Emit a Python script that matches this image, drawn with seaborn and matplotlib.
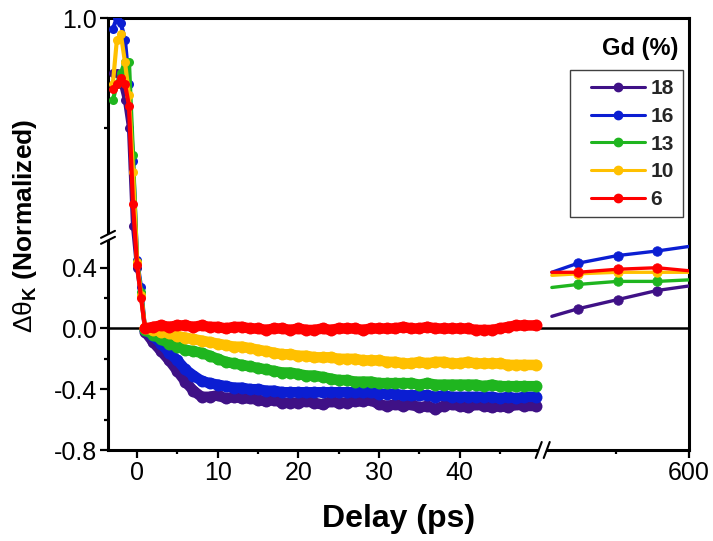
import numpy as np
import pandas as pd
import matplotlib
matplotlib.use("Agg")
import matplotlib.pyplot as plt
from matplotlib.lines import Line2D
from matplotlib.patches import Rectangle
import seaborn as sns

# ---------------- data ----------------
# short-delay scan (ps)
delay_ps = [-3.0, -2.5, -2.0, -1.5, -1.0, -0.5, 0.0, 0.5, 1.0,
            2, 3, 4, 5, 6, 7, 8, 9, 10, 11,
            12, 13, 14, 15, 16, 17, 18, 19, 20, 21,
            22, 23, 24, 25, 26, 27, 28, 29, 30, 31,
            32, 33, 34, 35, 36, 37, 38, 39, 40, 41,
            42, 43, 44, 45, 46, 47, 48, 49.5]

gd18 = [0.90, 0.90, 0.88, 0.85, 0.80, 0.62, 0.40, 0.22, -0.02,
        -0.09, -0.15, -0.21, -0.28, -0.35, -0.41, -0.45, -0.45, -0.44, -0.46,
        -0.45, -0.46, -0.46, -0.47, -0.48, -0.47, -0.49, -0.49, -0.49, -0.48,
        -0.49, -0.50, -0.48, -0.49, -0.49, -0.48, -0.48, -0.47, -0.50, -0.51,
        -0.50, -0.51, -0.50, -0.52, -0.51, -0.53, -0.51, -0.50, -0.51, -0.52,
        -0.50, -0.51, -0.52, -0.51, -0.52, -0.50, -0.51, -0.51]

gd16 = [0.98, 1.00, 0.99, 0.96, 0.88, 0.74, 0.45, 0.27, -0.01,
        -0.05, -0.10, -0.16, -0.21, -0.27, -0.31, -0.345, -0.36, -0.37, -0.38,
        -0.39, -0.39, -0.40, -0.40, -0.41, -0.41, -0.42, -0.42, -0.42, -0.42,
        -0.42, -0.42, -0.42, -0.42, -0.42, -0.42, -0.42, -0.42, -0.43, -0.43,
        -0.43, -0.44, -0.44, -0.44, -0.44, -0.45, -0.44, -0.45, -0.45, -0.45,
        -0.45, -0.45, -0.45, -0.46, -0.45, -0.46, -0.45, -0.45]

gd13 = [0.85, 0.88, 0.90, 0.92, 0.92, 0.75, 0.44, 0.24, -0.01,
        -0.04, -0.07, -0.10, -0.12, -0.14, -0.15, -0.16, -0.18, -0.20, -0.22,
        -0.23, -0.24, -0.25, -0.26, -0.27, -0.28, -0.29, -0.29, -0.30, -0.31,
        -0.31, -0.32, -0.33, -0.34, -0.34, -0.35, -0.35, -0.35, -0.36, -0.36,
        -0.36, -0.36, -0.36, -0.37, -0.36, -0.37, -0.37, -0.37, -0.37, -0.37,
        -0.37, -0.38, -0.37, -0.38, -0.38, -0.38, -0.38, -0.38]

gd10 = [0.88, 0.96, 0.97, 0.92, 0.86, 0.72, 0.44, 0.22, 0.00,
        -0.01, -0.02, -0.03, -0.05, -0.06, -0.07, -0.08, -0.09, -0.10, -0.11,
        -0.12, -0.12, -0.13, -0.14, -0.15, -0.16, -0.17, -0.17, -0.18, -0.18,
        -0.19, -0.19, -0.19, -0.20, -0.20, -0.20, -0.21, -0.21, -0.21, -0.22,
        -0.22, -0.23, -0.23, -0.22, -0.23, -0.22, -0.22, -0.23, -0.23, -0.22,
        -0.23, -0.23, -0.23, -0.23, -0.24, -0.24, -0.24, -0.24]

gd6 = [0.87, 0.88, 0.89, 0.88, 0.84, 0.66, 0.42, 0.20, 0.00,
       0.01, 0.02, 0.01, 0.02, 0.02, 0.01, 0.02, 0.01, 0.01, 0.00,
       0.01, 0.01, 0.00, 0.00, -0.01, 0.00, 0.00, -0.01, 0.00, -0.01,
       -0.01, 0.00, -0.01, 0.00, 0.00, 0.00, -0.01, 0.00, 0.00, 0.00,
       0.00, 0.01, 0.00, 0.00, 0.01, 0.00, 0.00, 0.00, 0.00, 0.00,
       -0.01, -0.01, -0.01, 0.00, 0.01, 0.02, 0.02, 0.02]

# long-delay points (ps)
late_delay_ps = [506, 524, 551, 578, 600]
late_gd18 = [0.08, 0.13, 0.19, 0.25, 0.28]
late_gd16 = [0.37, 0.43, 0.48, 0.51, 0.54]
late_gd13 = [0.27, 0.29, 0.31, 0.31, 0.32]
late_gd10 = [0.35, 0.36, 0.37, 0.37, 0.37]
late_gd6 = [0.37, 0.37, 0.39, 0.40, 0.38]

gd_labels = ["18", "16", "13", "10", "6"]
colors = ["#3F1186", "#0B1ED2", "#1FB51F", "#FFC000", "#FF0000"]

x_ticks = [0, 10, 20, 30, 40, 600]
x_minor = [5, 15, 25, 35, 45, 550]
y_ticks = [-0.8, -0.4, 0.0, 0.4, 1.0]
y_tick_labels = ["-0.8", "-0.4", "0.0", "0.4", "1.0"]
y_minor = [-0.6, -0.2, 0.2, 0.8]

short_series = [gd18, gd16, gd13, gd10, gd6]
long_series = [late_gd18, late_gd16, late_gd13, late_gd10, late_gd6]

short_df = pd.concat(
    [pd.DataFrame({"delay": delay_ps, "signal": v, "gd": g})
     for g, v in zip(gd_labels, short_series)], ignore_index=True)
long_df = pd.concat(
    [pd.DataFrame({"delay": late_delay_ps, "signal": v, "gd": g})
     for g, v in zip(gd_labels, long_series)], ignore_index=True)

# ---------------- style ----------------
sns.set_theme(style="ticks")
plt.rcParams["font.family"] = ["Liberation Sans", "DejaVu Sans"]
plt.rcParams["mathtext.fontset"] = "custom"
plt.rcParams["mathtext.rm"] = "Liberation Sans"
plt.rcParams["mathtext.it"] = "Liberation Sans:italic"
plt.rcParams["mathtext.bf"] = "Liberation Sans:bold"

# ---------------- broken axis scales ----------------
X_BREAK, X_RESUME, X_GAP, X_FACTOR = 50.3, 500.0, 1e-4, 0.1809
Y_BREAK, Y_FACTOR = 0.6, 3.61
S_RESUME = X_BREAK + (X_RESUME - X_BREAK) * X_GAP


def fwd_x(x):
    x = np.asarray(x, dtype=float)
    return np.where(x <= X_BREAK, x,
                    np.where(x < X_RESUME, X_BREAK + (x - X_BREAK) * X_GAP,
                             S_RESUME + (x - X_RESUME) * X_FACTOR))


def inv_x(s):
    s = np.asarray(s, dtype=float)
    return np.where(s <= X_BREAK, s,
                    np.where(s < S_RESUME, X_BREAK + (s - X_BREAK) / X_GAP,
                             X_RESUME + (s - S_RESUME) / X_FACTOR))


def fwd_y(v):
    v = np.asarray(v, dtype=float)
    return np.where(v <= Y_BREAK, v, Y_BREAK + (v - Y_BREAK) * Y_FACTOR)


def inv_y(s):
    s = np.asarray(s, dtype=float)
    return np.where(s <= Y_BREAK, s, Y_BREAK + (s - Y_BREAK) / Y_FACTOR)


W, H = 713, 541
fig = plt.figure(figsize=(W / 100, H / 100), dpi=100)
ax = fig.add_axes([108 / W, 1 - 450 / H, 581 / W, 432 / H])

ax.axhline(0, color="black", lw=1.8, zorder=1)

for g, c in zip(gd_labels, colors):
    sub = short_df[short_df["gd"] == g]
    # fast drop around time zero: thinner trace
    sns.lineplot(data=sub[sub["delay"] <= 1.0], x="delay", y="signal",
                 ax=ax, color=c, lw=3.0, marker="o", ms=6.5, mew=0,
                 estimator=None, legend=False, zorder=3)
    # slow recovery: dense thick trace
    sns.lineplot(data=sub[sub["delay"] >= 1.0], x="delay", y="signal",
                 ax=ax, color=c, lw=7.6, marker="o", ms=8.6, mew=0,
                 solid_capstyle="round", solid_joinstyle="round",
                 estimator=None, legend=False, zorder=3)
    sns.lineplot(data=long_df[long_df["gd"] == g], x="delay", y="signal",
                 ax=ax, color=c, lw=2.4, marker="o", ms=6.8, mec=c, mew=0.6,
                 markevery=[1, 2, 3], estimator=None, legend=False, zorder=3)

ax.set_xscale("function", functions=(fwd_x, inv_x))
ax.set_yscale("function", functions=(fwd_y, inv_y))
ax.set_xlim(-3.6, 600)
ax.set_ylim(-0.8, 1.0)

ax.set_xticks(x_ticks)
ax.set_xticklabels([str(t) for t in x_ticks])
ax.set_xticks(x_minor, minor=True)
ax.set_yticks(y_ticks)
ax.set_yticklabels(y_tick_labels)
ax.set_yticks(y_minor, minor=True)
ax.xaxis.set_minor_formatter(matplotlib.ticker.NullFormatter())
ax.yaxis.set_minor_formatter(matplotlib.ticker.NullFormatter())

ax.tick_params(which="major", direction="out", length=6, width=1.6,
               labelsize=18, pad=2, color="black", labelcolor="black")
ax.tick_params(which="minor", direction="out", length=3, width=1.6,
               color="black")
for sp in ax.spines.values():
    sp.set_linewidth(2.2)
    sp.set_color("black")
ax.grid(False)

ax.set_xlabel("Delay (ps)", fontsize=23, fontweight="bold", color="black")
ax.xaxis.set_label_coords(0.5, -0.125)
ax.set_ylabel(r"$\mathrm{\Delta\theta}_{\mathbf{K}}$ (Normalized)",
              fontsize=19, fontweight="bold", color="black")
ax.yaxis.set_label_coords(-0.118, 0.52)

# legend (frame drawn separately as a plain box)
handles = [Line2D([], [], color=c, lw=2.2, marker="o", ms=6, mec=c)
           for c in colors]
leg = ax.legend(handles, gd_labels, loc="upper right",
                bbox_to_anchor=(0.99, 0.88), bbox_transform=ax.transAxes,
                frameon=False, prop={"weight": "bold", "size": 15},
                handlelength=2.6, handletextpad=0.25, labelspacing=0.42,
                borderpad=0.45, borderaxespad=0)
fig.add_artist(Rectangle((570 / W, 1 - 217 / H), 113 / W, 147 / H,
                         transform=fig.transFigure, fill=False,
                         edgecolor="#404040", lw=1.0, zorder=4))
fig.text(678 / W, 1 - 48 / H, "Gd (%)", ha="right", va="center",
         fontsize=17, fontweight="bold", color="black")

# break marks on the axes
def fig_line(xs, ys, **kw):
    fig.add_artist(Line2D([x / W for x in xs], [y / H for y in ys],
                          transform=fig.transFigure, **kw))


px_left = ax.transAxes.transform((0, 0))[0]
py_break = ax.transData.transform((1.0, Y_BREAK))[1]
fig_line([px_left, px_left], [py_break - 3, py_break + 3],
         color="white", lw=4, solid_capstyle="butt", zorder=5)
for o in (-3, 3):
    fig_line([px_left - 7, px_left + 7],
             [py_break - 3.5 + o, py_break + 3.5 + o],
             color="black", lw=1.5, zorder=6)

qx = ax.transData.transform((X_BREAK, 0.0))[0]
qy = ax.transAxes.transform((0, 0))[1]
fig_line([qx - 4, qx + 4], [qy, qy], color="white", lw=4,
         solid_capstyle="butt", zorder=5)
for o in (-4, 4):
    fig_line([qx + o - 3, qx + o + 3], [qy - 8, qy + 8],
             color="black", lw=1.5, zorder=6)

fig.savefig("out.png", dpi=100)
